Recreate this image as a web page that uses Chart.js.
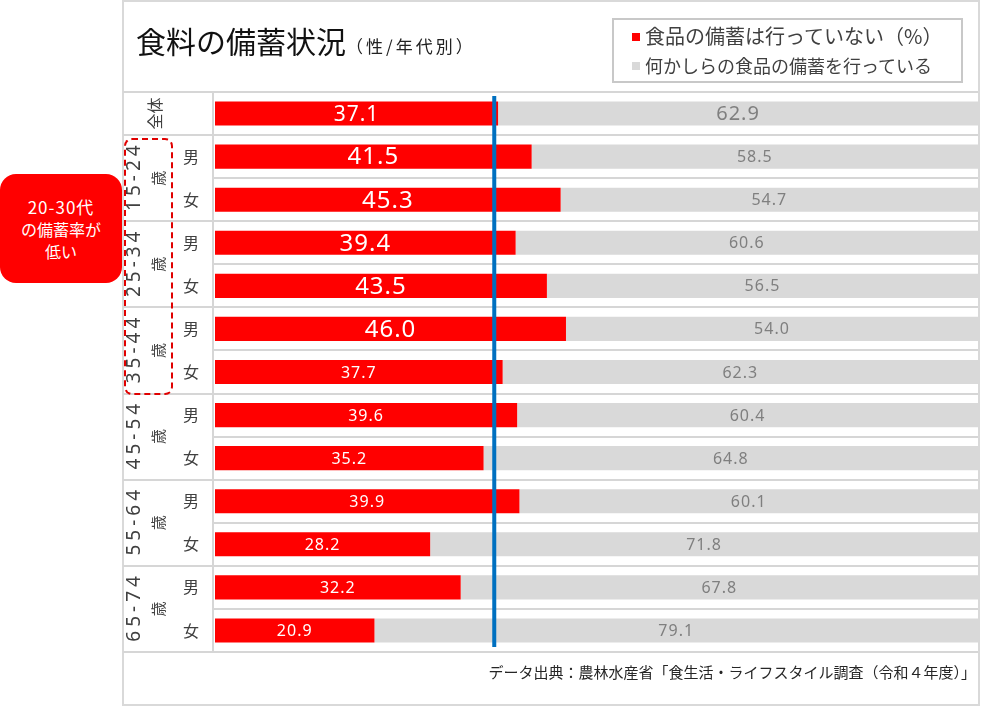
<!DOCTYPE html>
<html>
<head>
<meta charset="utf-8">
<script src="https://cdn.jsdelivr.net/npm/chart.js@4.4.0/dist/chart.umd.min.js"></script>
<style>
html,body{margin:0;padding:0;background:#fff;}
#wrap{position:relative;width:1002px;height:707px;overflow:hidden;font-family:"Noto Sans CJK JP","Noto Sans",sans-serif;}
.frame{position:absolute;left:122px;top:0;width:858px;height:706px;border:2px solid #d9d9d9;box-sizing:border-box;}
#c{position:absolute;left:0;top:0;}
.title{position:absolute;left:136px;top:20px;line-height:40px;font-size:30px;color:#111;white-space:nowrap;}
.title .sub{font-size:17px;letter-spacing:3px;color:#222;}
.legend{position:absolute;left:612px;top:18px;width:351px;height:65px;border:2px solid #c8c8c8;box-sizing:border-box;}
.legend .item{position:absolute;left:18px;white-space:nowrap;color:#404040;line-height:24px;}
.legend .sw{display:inline-block;width:8px;height:8px;margin-right:5px;vertical-align:middle;position:relative;top:-2px;}
.note{position:absolute;left:0;top:174px;width:122px;height:109px;background:#ff0000;border-radius:16px;color:#fff;font-size:16px;line-height:22px;text-align:center;display:flex;flex-direction:column;justify-content:center;}
.dash{position:absolute;left:124px;top:138px;width:49px;height:257px;border:2px dashed #e00000;border-radius:8px;box-sizing:border-box;}
.footer{position:absolute;right:26px;top:662px;line-height:20px;font-size:15px;color:#262626;white-space:nowrap;}
</style>
</head>
<body>
<div id="wrap">
  <div class="frame"></div>
  <canvas id="c" width="1002" height="707"></canvas>
  <div class="title">食料の備蓄状況<span class="sub">（性/年代別）</span></div>
  <div class="legend">
    <div class="item" style="top:4px;font-size:20px;"><span class="sw" style="background:#ff0000"></span>食品の備蓄は行っていない（%）</div>
    <div class="item" style="top:33px;font-size:18px;"><span class="sw" style="background:#d9d9d9"></span>何かしらの食品の備蓄を行っている</div>
  </div>
  <div class="dash"></div>
  <div class="note"><div style="font-size:17px;letter-spacing:1px;">20-30代</div><div>の備蓄率が</div><div>低い</div></div>
  <div class="footer">データ出典：農林水産省「食生活・ライフスタイル調査（令和４年度）」</div>
</div>
<script>
// ---- data ----
const totalLabel = '全体';
const ageGroups = ['15-24', '25-34', '35-44', '45-54', '55-64', '65-74'];
const genderLabels = ['男', '女'];
const notStocking = [37.1, 41.5, 45.3, 39.4, 43.5, 46.0, 37.7, 39.6, 35.2, 39.9, 28.2, 32.2, 20.9];
const stocking    = [62.9, 58.5, 54.7, 60.6, 56.5, 54.0, 62.3, 60.4, 64.8, 60.1, 71.8, 67.8, 79.1];
const markerValue = 36.6;
const seriesNames = ['食品の備蓄は行っていない(%)', '何かしらの食品の備蓄を行っている'];

const categories = [totalLabel].concat(
  ageGroups.flatMap(a => genderLabels.map(g => a + '歳 ' + g))
);

const JP = '"Noto Sans CJK JP", "Noto Sans", sans-serif';
const NUM = '"Noto Sans", "Noto Sans CJK JP", sans-serif';
const LINE = '#d6d6d6';

// emphasis: first rows drawn with larger labels in the reference
function labelSize(ds, i) {
  if (ds === 0) return i === 0 ? 21 : (i <= 5 ? 24 : 16);
  return i === 0 ? 20 : 16;
}

const tablePlugin = {
  id: 'table',
  beforeDatasetsDraw(chart) {
    const {ctx, scales: {y}} = chart;
    const step = y.getPixelForValue(1) - y.getPixelForValue(0);
    const b = i => y.getPixelForValue(i) - step / 2;
    ctx.save();
    ctx.strokeStyle = LINE;
    ctx.lineWidth = 2;
    const n = categories.length;
    for (let i = 0; i <= n; i++) {
      const yy = Math.round(b(i));
      const full = (i === 0 || i === n || (i - 1) % 2 === 0);
      ctx.beginPath();
      ctx.moveTo(full ? 123 : 213, yy);
      ctx.lineTo(978, yy);
      ctx.stroke();
    }
    ctx.beginPath();
    ctx.moveTo(213, Math.round(b(0)));
    ctx.lineTo(213, Math.round(b(n)));
    ctx.stroke();
    ctx.restore();
  },
  afterDatasetsDraw(chart) {
    const {ctx, chartArea, scales: {x, y}} = chart;
    // marker line
    const mx = x.getPixelForValue(markerValue);
    ctx.save();
    ctx.strokeStyle = '#0070c0';
    ctx.lineWidth = 4;
    ctx.beginPath();
    ctx.moveTo(mx, chartArea.top + 4);
    ctx.lineTo(mx, chartArea.bottom - 5);
    ctx.stroke();
    // value labels
    ctx.textAlign = 'center';
    ctx.textBaseline = 'middle';
    chart.data.datasets.forEach((ds, d) => {
      const meta = chart.getDatasetMeta(d);
      meta.data.forEach((bar, i) => {
        const cx = (bar.x + bar.base) / 2;
        ctx.font = labelSize(d, i) + 'px ' + NUM;
        ctx.letterSpacing = '1px';
        ctx.fillStyle = d === 0 ? '#ffffff' : '#7f7f7f';
        ctx.fillText(ds.data[i].toFixed(1), cx, bar.y + 1);
      });
    });
    // age group labels (rotated)
    ctx.fillStyle = '#404040';
    ctx.font = '16px ' + JP;
    ctx.letterSpacing = '0px';
    ctx.save();
    ctx.translate(155, y.getPixelForValue(0));
    ctx.rotate(-Math.PI / 2);
    ctx.fillText(totalLabel, 0, 0);
    ctx.restore();
    ageGroups.forEach((a, g) => {
      const yc = (y.getPixelForValue(1 + 2 * g) + y.getPixelForValue(2 + 2 * g)) / 2;
      ctx.save();
      ctx.translate(135, yc);
      ctx.rotate(-Math.PI / 2);
      ctx.font = '19px ' + NUM;
      ctx.letterSpacing = '4px';
      ctx.fillText(a, 2, 0);
      ctx.restore();
      ctx.save();
      ctx.translate(158, yc);
      ctx.rotate(-Math.PI / 2);
      ctx.font = '15px ' + JP;
      ctx.letterSpacing = '0px';
      ctx.fillText('歳', 0, 0);
      ctx.restore();
    });
    ctx.restore();
  }
};

new Chart(document.getElementById('c'), {
  type: 'bar',
  data: {
    labels: categories,
    datasets: [
      {label: seriesNames[0], data: notStocking, backgroundColor: '#ff0000', barPercentage: 0.56, categoryPercentage: 1.0},
      {label: seriesNames[1], data: stocking, backgroundColor: '#d9d9d9', barPercentage: 0.56, categoryPercentage: 1.0}
    ]
  },
  options: {
    indexAxis: 'y',
    responsive: false,
    animation: false,
    layout: {padding: {left: 123, right: 24, top: 92, bottom: 55}},
    plugins: {legend: {display: false}, tooltip: {enabled: false}},
    scales: {
      x: {stacked: true, min: 0, max: 100, display: false},
      y: {
        stacked: true,
        grid: {display: false, drawTicks: false},
        border: {display: false},
        ticks: {
          padding: 16,
          color: '#404040',
          font: {size: 16, family: JP},
          callback: (v, i) => i === 0 ? '' : genderLabels[(i - 1) % 2]
        },
        afterFit(s) { s.width = 92; }
      }
    }
  },
  plugins: [tablePlugin]
});
</script>
</body>
</html>
